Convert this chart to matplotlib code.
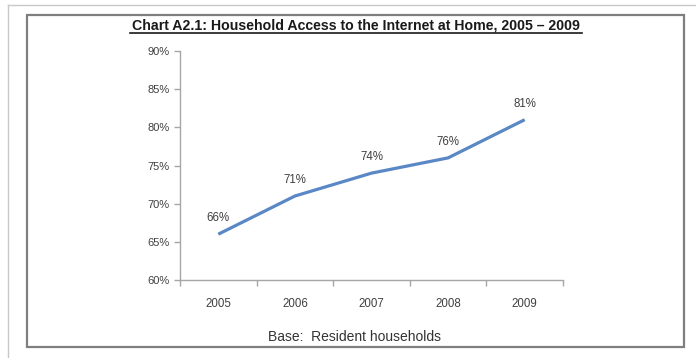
import matplotlib
matplotlib.use('Agg')
import matplotlib.pyplot as plt
from matplotlib.patches import Rectangle
from matplotlib.ticker import FuncFormatter

years = ['2005', '2006', '2007', '2008', '2009']
access_pct = [66, 71, 74, 76, 81]
yticks = [60, 65, 70, 75, 80, 85, 90]

title = 'Chart A2.1: Household Access to the Internet at Home, 2005 \u2013 2009'
base_note = 'Base:  Resident households'

W, H = 696, 358
fig = plt.figure(figsize=(W / 100, H / 100), dpi=100)
fig.patch.set_facecolor('white')

# outer page frame (light) and chart box (dark gray)
fig.add_artist(plt.Line2D([8 / W, 1], [1 - 5 / H, 1 - 5 / H], color='#c8c8c8', lw=1))
fig.add_artist(plt.Line2D([8 / W, 8 / W], [0, 1 - 5 / H], color='#c8c8c8', lw=1))
fig.add_artist(Rectangle((27 / W, 1 - 347 / H), (684 - 27) / W, (347 - 15) / H,
                         transform=fig.transFigure, fill=False,
                         edgecolor='#7f7f7f', lw=1.6))

# plot area: x 180..563 px, y 51..280 px
ax = fig.add_axes([180 / W, 1 - 280 / H, (563 - 180) / W, (280 - 51) / H])
x = list(range(len(years)))
ax.plot(x, access_pct, color='#5A87C6', lw=2.3, solid_capstyle='butt')

for xi, v in zip(x, access_pct):
    ax.annotate(f'{v}%', (xi, v), xytext=(0, 7), textcoords='offset points',
                ha='center', va='bottom', fontsize=8.3, color='#404040',
                family='Liberation Sans')

ax.set_xlim(-0.5, len(years) - 0.5)
ax.set_ylim(60, 90)
ax.set_yticks(yticks)
ax.yaxis.set_major_formatter(FuncFormatter(lambda v, p: f'{v:.0f}%'))
ax.set_xticks([i + 0.5 for i in range(-1, len(years))], minor=False)
ax.set_xticklabels([])
ax.set_xticks(x, minor=True)
ax.set_xticklabels(years, minor=True)

for s in ['top', 'right']:
    ax.spines[s].set_visible(False)
for s in ['left', 'bottom']:
    ax.spines[s].set_color('#a6a6a6')
    ax.spines[s].set_linewidth(1)
ax.tick_params(axis='both', which='major', color='#a6a6a6', length=4, width=1,
               direction='out', labelsize=8, labelcolor='#404040')
ax.tick_params(axis='x', which='minor', length=0, pad=13, labelsize=8.3,
               labelcolor='#404040')
for lab in ax.get_yticklabels() + ax.get_xticklabels(minor=True):
    lab.set_family('Liberation Sans')

fig.text(356 / W, 1 - 25 / H, title, ha='center', va='center', fontsize=10.2,
         fontweight='bold', family='Liberation Sans', color='#1a1a1a')
# underline for the title
fig.add_artist(plt.Line2D([130 / W, 582 / W], [1 - 32.5 / H, 1 - 32.5 / H],
                          color='#1a1a1a', lw=1.2))
fig.text(355 / W, 1 - 337 / H, base_note, ha='center', va='center', fontsize=10,
         family='Liberation Sans', color='#333333')

fig.savefig('out.png', dpi=100)
